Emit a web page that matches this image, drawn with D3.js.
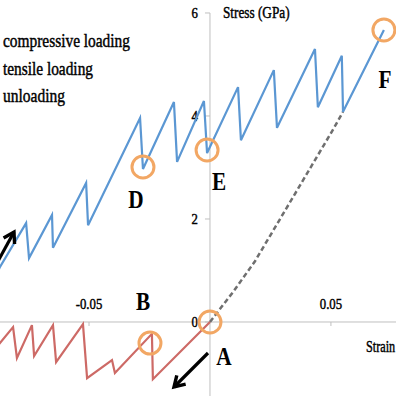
<!DOCTYPE html>
<html>
<head>
<meta charset="utf-8">
<script src="https://cdn.jsdelivr.net/npm/d3@7"></script>
<style>
  html, body { margin: 0; padding: 0; background: #fff; overflow: hidden; }
  svg { display: block; }
  text { font-family: "Liberation Serif", "Times New Roman", serif; fill: #000; }
  text.heavy { stroke: #000; stroke-width: 0.45px; }
</style>
</head>
<body>
<script>
// ---------- data (strain, stress in GPa) ----------
const tensileStrain = [-0.0884, -0.0868, -0.0760, -0.0748, -0.0653, -0.0649, -0.0512, -0.0504, -0.0289, -0.0277, -0.0149, -0.0136, -0.0025, -0.0012, 0.0116, 0.0128, 0.0264, 0.0277, 0.0434, 0.0446, 0.0545, 0.0550, 0.0719];
const tensileStress = [0.91, 1.07, 1.92, 1.24, 2.08, 1.44, 2.70, 1.88, 3.96, 2.97, 4.27, 3.11, 4.29, 3.28, 4.56, 3.53, 4.89, 3.77, 5.30, 4.17, 5.17, 4.08, 5.67];

const compStrain = [-0.0884, -0.0814, -0.0798, -0.0736, -0.0727, -0.0649, -0.0636, -0.0525, -0.0508, -0.0405, -0.0393, -0.0240, -0.0236, 0.0];
const compStress = [-0.50, -0.10, -0.70, -0.06, -0.66, -0.06, -0.78, -0.04, -1.09, -0.74, -0.99, -0.23, -1.11, 0.0];

const unloadStrain = [0.0, 0.0095, 0.0186, 0.0339, 0.0508, 0.0550];
const unloadStress = [0.0, 0.58, 1.18, 2.39, 3.73, 4.08];

const markerNames  = ["A", "B", "D", "E", "F"];
const markerStrain = [0.0, -0.0248, -0.0277, -0.0012, 0.0719];
const markerStress = [0.0, -0.41, 3.01, 3.34, 5.67];

const yTicks = [0, 2, 4, 6];
const xTicks = [-0.05, 0.05];
const xTickLabels = ["-0.05", "0.05"];
const legendLabels = ["compressive loading", "tensile loading", "unloading"];
const yTitle = "Stress (GPa)";
const xTitle = "Strain";

// ---------- setup ----------
const W = 396, H = 396;
const svg = d3.select("body").append("svg").attr("width", W).attr("height", H);

const x = d3.scaleLinear().domain([-0.0868, 0.0769]).range([0, W]);
const y = d3.scaleLinear().domain([-1.437, 6.252]).range([H, 0]);

const axisColor = "#bfbfbf";

function txt(g, s, px, py, opt) {
  opt = opt || {};
  const t = g.append("text")
    .attr("class", opt.cls || "heavy")
    .attr("transform", `translate(${px},${py}) scale(${opt.sx || 1},1)`)
    .attr("font-size", opt.size || 15)
    .attr("font-weight", opt.weight || "normal")
    .attr("text-anchor", opt.anchor || "start")
    .text(s);
  return t;
}

// ---------- axes ----------
const axes = svg.append("g");
axes.append("line")
  .attr("x1", x(0)).attr("x2", x(0))
  .attr("y1", y(6)).attr("y2", H)
  .attr("stroke", axisColor).attr("stroke-width", 1);
axes.append("line")
  .attr("x1", 0).attr("x2", W)
  .attr("y1", y(0)).attr("y2", y(0))
  .attr("stroke", axisColor).attr("stroke-width", 1);

yTicks.forEach(v => {
  axes.append("line")
    .attr("x1", x(0) - 5).attr("x2", x(0))
    .attr("y1", y(v)).attr("y2", y(v))
    .attr("stroke", axisColor);
  txt(axes, String(v), x(0) - 12, y(v) + 5, { size: 15, anchor: "end", sx: 0.85 });
});
xTicks.forEach((v, i) => {
  axes.append("line")
    .attr("x1", x(v)).attr("x2", x(v))
    .attr("y1", y(0)).attr("y2", y(0) + 4)
    .attr("stroke", axisColor);
  txt(axes, xTickLabels[i], x(v), y(0) - 13, { size: 15, anchor: "middle", sx: 0.85 });
});

txt(axes, yTitle, x(0) + 13, 18, { size: 17, sx: 0.78 });
txt(axes, xTitle, 366, y(0) + 30, { size: 17, sx: 0.72 });

// ---------- lines ----------
const line = d3.line().x(d => x(d[0])).y(d => y(d[1]));

svg.append("path").datum(d3.zip(unloadStrain, unloadStress))
  .attr("d", line).attr("fill", "none")
  .attr("stroke", "#6f6f6f").attr("stroke-width", 2.5)
  .attr("stroke-dasharray", "5,3");

svg.append("path").datum(d3.zip(compStrain, compStress))
  .attr("d", line).attr("fill", "none")
  .attr("stroke", "#cd6a66").attr("stroke-width", 2.2)
  .attr("stroke-linejoin", "miter");

svg.append("path").datum(d3.zip(tensileStrain, tensileStress))
  .attr("d", line).attr("fill", "none")
  .attr("stroke", "#5b97d3").attr("stroke-width", 2.2)
  .attr("stroke-linejoin", "miter");

// ---------- markers ----------
const markers = markerNames.map((n, i) => ({ name: n, sx: markerStrain[i], sy: markerStress[i] }));
svg.selectAll("circle.mk").data(markers).enter().append("circle")
  .attr("class", "mk")
  .attr("cx", d => x(d.sx)).attr("cy", d => y(d.sy))
  .attr("r", 11)
  .attr("fill", "none")
  .attr("stroke", "#f2a764").attr("stroke-width", 3);

const labelOffset = { A: [14, 43], B: [-7, -33], D: [-7, 41], E: [12, 40], F: [1, 58] };
markers.forEach(m => {
  const o = labelOffset[m.name];
  txt(svg, m.name, x(m.sx) + o[0], y(m.sy) + o[1], { size: 25, weight: "bold", anchor: "middle", sx: 0.85, cls: "plain" });
});

// ---------- arrows ----------
function arrow(x1, y1, x2, y2) {
  const g = svg.append("g");
  g.append("line").attr("x1", x1).attr("y1", y1).attr("x2", x2).attr("y2", y2)
    .attr("stroke", "#000").attr("stroke-width", 3.2);
  const ang = Math.atan2(y2 - y1, x2 - x1);
  const L = 12, spread = 0.55;
  const p1 = [x2 - L * Math.cos(ang - spread), y2 - L * Math.sin(ang - spread)];
  const p2 = [x2 - L * Math.cos(ang + spread), y2 - L * Math.sin(ang + spread)];
  g.append("path")
    .attr("d", `M${p1[0]},${p1[1]} L${x2},${y2} L${p2[0]},${p2[1]}`)
    .attr("fill", "none").attr("stroke", "#000").attr("stroke-width", 3.4)
    .attr("stroke-linejoin", "miter");
}
arrow(-8, 272, 14, 232);
arrow(208, 353, 174, 387);

// ---------- legend (text only, as visible) ----------
const lg = svg.append("g");
legendLabels.forEach((s, i) => {
  lg.append("text")
    .attr("class", "heavy")
    .attr("x", 3).attr("y", [47, 75, 102][i])
    .attr("font-size", 19)
    .attr("textLength", [127, 90, 62][i])
    .attr("lengthAdjust", "spacingAndGlyphs")
    .text(s);
});
</script>
</body>
</html>
